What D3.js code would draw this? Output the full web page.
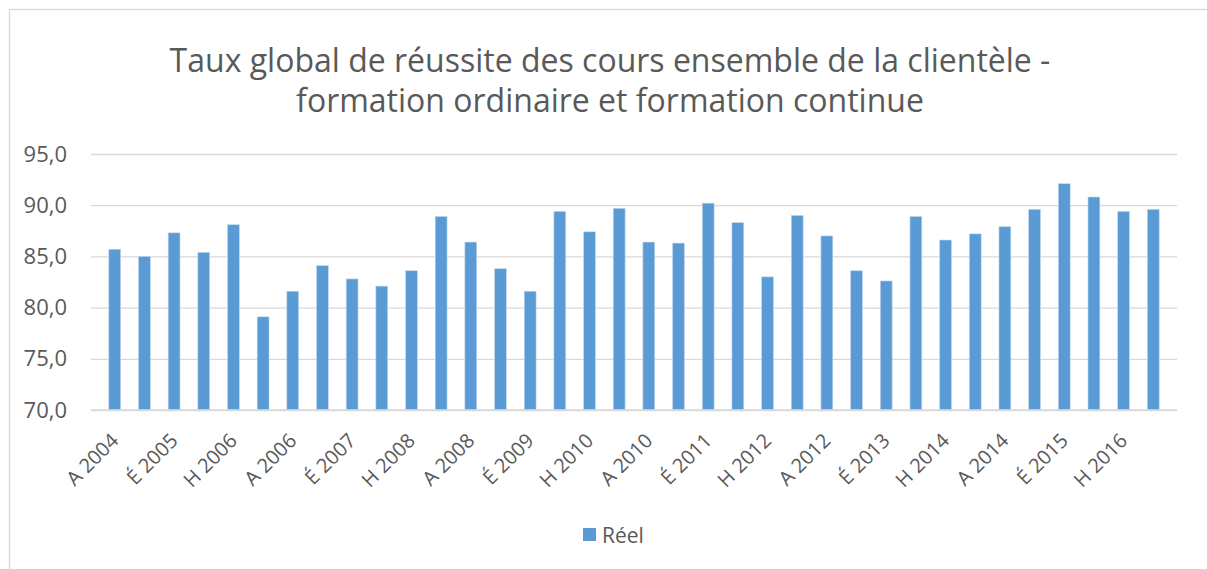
<!DOCTYPE html>
<html>
<head>
<meta charset="utf-8">
<script src="https://cdnjs.cloudflare.com/ajax/libs/d3/7.8.5/d3.min.js"></script>
<style>
	body { margin: 0; background: #fff; }
	text { font-family: "Open Sans", sans-serif; fill: #595959; }
</style>
</head>
<body>
<div id="chart-area"></div>
<script>
// sessions : A = automne, H = hiver, É = été
var sessions = ["A 2004","H 2005","É 2005","A 2005","H 2006","É 2006","A 2006","H 2007","É 2007",
	"A 2007","H 2008","É 2008","A 2008","H 2009","É 2009","A 2009","H 2010","É 2010",
	"A 2010","H 2011","É 2011","A 2011","H 2012","É 2012","A 2012","H 2013","É 2013",
	"A 2013","H 2014","É 2014","A 2014","H 2015","É 2015","A 2015","H 2016","É 2016"];

var reel = [85.7, 85.0, 87.3, 85.4, 88.1, 79.1, 81.6, 84.1, 82.8,
	82.1, 83.6, 88.9, 86.4, 83.8, 81.6, 89.4, 87.4, 89.7,
	86.4, 86.3, 90.2, 88.3, 83.0, 89.0, 87.0, 83.6, 82.6,
	88.9, 86.6, 87.2, 87.9, 89.6, 92.1, 90.8, 89.4, 89.6];

var yTicks = [70, 75, 80, 85, 90, 95];

var titleLines = ["Taux global de réussite des cours ensemble de la clientèle -",
	"formation ordinaire et formation continue"];

var W = 1207, H = 569;
var plot = {left:91, right:1177, top:154, bottom:410};

var svg = d3.select("#chart-area")
	.append("svg")
		.attr("width", W)
		.attr("height", H);

// cadre du graphique
svg.append("rect")
	.attr("x", 9.5)
	.attr("y", 9.5)
	.attr("width", W + 20)
	.attr("height", H + 20)
	.attr("fill", "#fff")
	.attr("stroke", "#d9d9d9")
	.attr("stroke-width", 1.3);

svg.selectAll(".title")
	.data(titleLines)
	.enter()
	.append("text")
		.attr("class", "title")
		.attr("x", 610)
		.attr("y", function(d, i){ return 72 + i * 40; })
		.attr("text-anchor", "middle")
		.attr("font-size", "32px")
		.text(function(d){ return d; });

var x = d3.scaleBand()
	.domain(sessions)
	.range([plot.left, plot.right])
	.padding(0.6);

var y = d3.scaleLinear()
	.domain([70, 95])
	.range([plot.bottom, plot.top]);

// grille
var yAxisCall = d3.axisLeft(y)
	.tickValues(yTicks)
	.tickSize(-(plot.right - plot.left))
	.tickPadding(24)
	.tickFormat(function(d){ return d3.format(".1f")(d).replace(".", ","); });

var yAxis = svg.append("g")
	.attr("class", "y axis")
	.attr("transform", "translate(" + plot.left + ",0)")
	.call(yAxisCall);

yAxis.select(".domain").remove();
yAxis.selectAll("line")
	.attr("stroke", "#d9d9d9")
	.attr("stroke-width", 1.3);
yAxis.selectAll("text")
	.attr("font-family", "Open Sans")
	.attr("font-size", "22px")
	.attr("fill", "#595959");

svg.selectAll(".bar")
	.data(reel)
	.enter()
	.append("rect")
		.attr("class", "bar")
		.attr("x", function(d, i){ return x(sessions[i]); })
		.attr("y", function(d){ return y(d); })
		.attr("width", x.bandwidth())
		.attr("height", function(d){ return plot.bottom - y(d); })
		.attr("fill", "#5b9bd5")
		.attr("stroke", "#c5daf0")
		.attr("stroke-width", 0.6);

// axe horizontal
svg.append("line")
	.attr("x1", plot.left)
	.attr("x2", plot.right)
	.attr("y1", plot.bottom)
	.attr("y2", plot.bottom)
	.attr("stroke", "#d9d9d9")
	.attr("stroke-width", 1.3);

// étiquettes une session sur deux
var shown = sessions.filter(function(d, i){ return i % 2 == 0; });

svg.selectAll(".xlabel")
	.data(shown)
	.enter()
	.append("text")
		.attr("class", "xlabel")
		.attr("text-anchor", "end")
		.attr("font-size", "20px")
		.attr("transform", function(d){
			var cx = x(d) + x.bandwidth() / 2;
			return "translate(" + (cx + 5) + ",442) rotate(-45)";
		})
		.text(function(d){ return d; });

// légende
svg.append("rect")
	.attr("x", 583)
	.attr("y", 528)
	.attr("width", 13)
	.attr("height", 13)
	.attr("fill", "#5b9bd5");

svg.append("text")
	.attr("x", 602)
	.attr("y", 543)
	.attr("font-size", "21px")
	.text("Réel");
</script>
</body>
</html>
